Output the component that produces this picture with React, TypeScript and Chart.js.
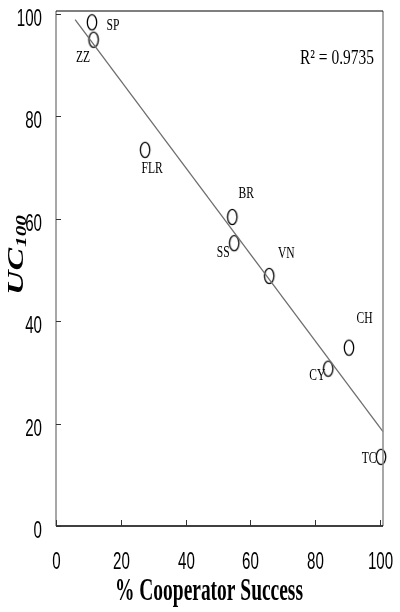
import React, { useEffect, useRef } from "react";
import { Chart, registerables } from "chart.js";
Chart.register(...registerables);

const siteLabels = ["SP", "ZZ", "FLR", "BR", "SS", "VN", "CH", "CY", "TC"];
const cooperatorSuccess = [11.1, 11.6, 27.5, 54.4, 55.0, 65.8, 90.4, 84.0, 100.3];
const uc100 = [98.3, 94.9, 73.4, 60.3, 55.2, 48.8, 34.8, 30.7, 13.5];
const trendX = [5.9, 100.9];
const trendY = [98.8, 18.4];
const xTicks = [0, 20, 40, 60, 80, 100];
const yTicks = [0, 20, 40, 60, 80, 100];
const rSquaredText = "R\u00B2 = 0.9735";
const xTitle = "% Cooperator Success";
const yTitleMain = "UC";
const yTitleSub = "100";

// label placement relative to the point (pixels, label centre)
const labelOffsets: [number, number][] = [
  [21, 2], [-10.5, 16.5], [7, 17], [14, -25], [-11, 8],
  [17, -23.5], [15.5, -30], [-11, 5.7], [-12, 0],
];

function makeEllipse() {
  const c = document.createElement("canvas");
  c.width = 14;
  c.height = 20;
  const g = c.getContext("2d")!;
  g.beginPath();
  g.ellipse(7, 10, 4.7, 7.6, 0, 0, Math.PI * 2);
  g.lineWidth = 1.3;
  g.strokeStyle = "#000";
  g.stroke();
  return c;
}

function drawScaled(ctx: CanvasRenderingContext2D, text: string, x: number, y: number, font: string, sx: number, align: "left" | "right" | "center") {
  ctx.save();
  ctx.font = font;
  const w = ctx.measureText(text).width * sx;
  let left = x;
  if (align === "center") left = x - w / 2;
  else if (align === "right") left = x - w;
  ctx.translate(left, y);
  ctx.scale(sx, 1);
  ctx.textAlign = "left";
  ctx.textBaseline = "alphabetic";
  ctx.fillText(text, 0, 0);
  ctx.restore();
}

const decorPlugin = {
  id: "decor",
  afterDraw(chart: any) {
    const ctx: CanvasRenderingContext2D = chart.ctx;
    const { left, right, top, bottom } = chart.chartArea;
    const xs = chart.scales.x;
    const ys = chart.scales.y;
    ctx.save();
    ctx.fillStyle = "#000";
    // frame
    ctx.lineWidth = 1.5;
    ctx.strokeStyle = "#8a8a8a";
    ctx.beginPath();
    ctx.moveTo(left, top); ctx.lineTo(left, bottom);
    ctx.moveTo(right, top); ctx.lineTo(right, bottom);
    ctx.stroke();
    ctx.strokeStyle = "#000";
    ctx.beginPath();
    ctx.moveTo(left, bottom); ctx.lineTo(right, bottom);
    ctx.stroke();
    ctx.lineWidth = 1.2;
    ctx.beginPath();
    ctx.moveTo(left, top); ctx.lineTo(right, top);
    ctx.stroke();
    // ticks
    ctx.lineWidth = 1;
    ctx.strokeStyle = "#333";
    const tickFont = "24px 'Liberation Sans', Arial, sans-serif";
    xs.ticks.forEach((t: any) => {
      const px = Math.round(xs.getPixelForValue(t.value)) + 0.5;
      ctx.beginPath();
      ctx.moveTo(px, bottom); ctx.lineTo(px, bottom - 6);
      ctx.stroke();
      drawScaled(ctx, String(t.value), px, 568.5, tickFont, 0.63, "center");
    });
    ys.ticks.forEach((t: any) => {
      const py = Math.round(ys.getPixelForValue(t.value)) + 0.5;
      ctx.beginPath();
      ctx.moveTo(left, py); ctx.lineTo(left + 5, py);
      ctx.stroke();
      drawScaled(ctx, String(t.value), 42, py + 11.8, tickFont, 0.63, "right");
    });
    // x title
    {
      const font = "bold 31px 'Liberation Serif', 'Times New Roman', serif";
      ctx.font = font;
      const w = ctx.measureText(xTitle).width;
      drawScaled(ctx, xTitle, 209, 600, font, 188 / w, "center");
    }
    // y title rotated, with subscript
    {
      ctx.save();
      ctx.translate(23, 295);
      ctx.rotate(-Math.PI / 2);
      const mainFont = "italic bold 24px 'Liberation Serif', 'Times New Roman', serif";
      ctx.font = mainFont;
      const mw = ctx.measureText(yTitleMain).width;
      const ms = 47 / mw;
      drawScaled(ctx, yTitleMain, 0, 0, mainFont, ms, "left");
      const subFont = "italic bold 14px 'Liberation Serif', 'Times New Roman', serif";
      ctx.font = subFont;
      const sw = ctx.measureText(yTitleSub).width;
      drawScaled(ctx, yTitleSub, 48, 2.5, subFont, 32 / sw, "left");
      ctx.restore();
    }
    // point labels
    const meta = chart.getDatasetMeta(1);
    const labelFont = "17.5px 'Liberation Serif', 'Times New Roman', serif";
    meta.data.forEach((el: any, i: number) => {
      const [dx, dy] = labelOffsets[i];
      drawScaled(ctx, siteLabels[i], el.x + dx, el.y + dy + 5.8, labelFont, 0.66, "center");
    });
    // R squared
    {
      const font = "22px 'Liberation Serif', 'Times New Roman', serif";
      ctx.font = font;
      const w = ctx.measureText(rSquaredText).width;
      drawScaled(ctx, rSquaredText, 374, 64, font, 74 / w, "right");
    }
    ctx.restore();
  },
};

export default function App() {
  const ref = useRef<HTMLCanvasElement | null>(null);
  useEffect(() => {
    const canvas = ref.current!;
    const ellipse = makeEllipse();
    const chart = new Chart(canvas, {
      type: "scatter",
      data: {
        datasets: [
          {
            type: "line",
            data: trendX.map((x, i) => ({ x, y: trendY[i] })),
            borderColor: "#6e6e6e",
            borderWidth: 1.3,
            pointRadius: 0,
            fill: false,
            tension: 0,
          } as any,
          {
            data: cooperatorSuccess.map((x, i) => ({ x, y: uc100[i] })),
            pointStyle: ellipse as any,
            pointRadius: 7,
            backgroundColor: "rgba(0,0,0,0)",
            borderColor: "#000",
          },
        ],
      },
      options: {
        responsive: false,
        animation: false,
        clip: false as any,
        layout: { padding: { top: 11, right: 17, left: 0, bottom: 0 } },
        plugins: { legend: { display: false }, tooltip: { enabled: false } },
        scales: {
          x: {
            type: "linear",
            min: 0,
            max: 100.9,
            grid: { display: false },
            border: { display: false },
            ticks: { display: false },
            afterFit: (s: any) => { s.height = 86; },
            afterBuildTicks: (s: any) => { s.ticks = xTicks.map((v) => ({ value: v })); },
          },
          y: {
            type: "linear",
            min: 0,
            max: 100.5,
            grid: { display: false },
            border: { display: false },
            ticks: { display: false },
            afterFit: (s: any) => { s.width = 56; },
            afterBuildTicks: (s: any) => { s.ticks = yTicks.map((v) => ({ value: v })); },
          },
        },
      },
      plugins: [decorPlugin],
    });
    return () => chart.destroy();
  }, []);
  return (
    <div style={{ position: "absolute", left: 0, top: 0, width: 400, height: 612, background: "#fff" }}>
      <canvas ref={ref} width={400} height={612} />
    </div>
  );
}
